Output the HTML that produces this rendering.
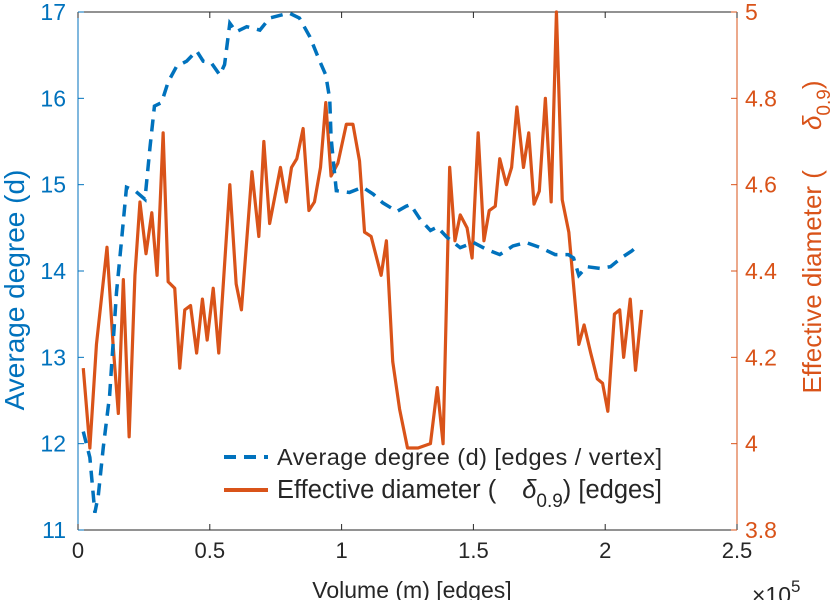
<!DOCTYPE html>
<html><head><meta charset="utf-8"><style>
body{margin:0;background:#fff}
svg{display:block;font-family:"Liberation Sans",sans-serif}
</style></head><body>
<svg id="chart" width="838" height="600" viewBox="0 0 838 600">
<g id="axes"></g><g id="series"></g>
<g>
<line x1="224" y1="457" x2="268" y2="457" stroke="#0072BD" stroke-width="4" stroke-dasharray="12,8"/>
<text x="277" y="465" font-size="23.5" fill="#262626" textLength="385">Average degree (d) [edges / vertex]</text>
<line x1="224" y1="490" x2="268" y2="490" stroke="#D95319" stroke-width="4"/>
<text x="277" y="498" font-size="25.5" fill="#262626">Effective diameter (<tspan dx="26" font-style="italic">δ</tspan><tspan font-size="19" dy="9">0.9</tspan><tspan dy="-9">) [edges]</tspan></text>
</g>
<text x="412" y="598" font-size="23" fill="#262626" text-anchor="middle">Volume (m) [edges]</text>
<text x="752" y="603" font-size="23" fill="#262626">×10<tspan font-size="17" dy="-11">5</tspan></text>
<text transform="translate(24,290) rotate(-90)" font-size="28" fill="#0072BD" text-anchor="middle">Average degree (d)</text>
<text transform="translate(821,237) rotate(-90)" font-size="26" fill="#D95319" text-anchor="middle">Effective diameter (<tspan dx="40" font-style="italic">δ</tspan><tspan font-size="19" dy="9">0.9</tspan><tspan dy="-9">)</tspan></text>
</svg>
<script>
const degX=[0.02,0.045,0.064,0.077,0.096,0.12,0.146,0.165,0.184,0.216,0.254,0.273,0.29,0.317,0.342,0.374,0.412,0.45,0.475,0.506,0.538,0.556,0.576,0.6,0.64,0.69,0.727,0.778,0.8,0.84,0.88,0.917,0.94,0.955,0.96,0.97,0.98,1.03,1.08,1.12,1.156,1.21,1.245,1.261,1.3,1.337,1.363,1.4,1.45,1.5,1.55,1.6,1.65,1.7,1.755,1.81,1.86,1.88,1.9,1.93,1.98,2.02,2.06,2.1,2.13];
const degY=[12.14,11.84,11.2,11.4,11.96,12.56,13.75,14.35,14.97,14.93,14.83,15.43,15.91,15.95,16.19,16.37,16.43,16.55,16.43,16.41,16.27,16.39,16.87,16.77,16.83,16.79,16.93,16.97,16.99,16.93,16.71,16.43,16.27,15.99,15.55,15.23,14.93,14.91,14.97,14.89,14.79,14.69,14.75,14.77,14.59,14.47,14.51,14.39,14.27,14.33,14.25,14.19,14.29,14.33,14.27,14.19,14.19,14.15,13.95,14.05,14.03,14.05,14.15,14.23,14.31];
const diaX=[0.02,0.045,0.07,0.11,0.133,0.153,0.172,0.194,0.216,0.235,0.258,0.28,0.3,0.323,0.342,0.367,0.386,0.405,0.427,0.45,0.472,0.49,0.513,0.534,0.576,0.6,0.62,0.66,0.686,0.705,0.727,0.768,0.79,0.81,0.83,0.854,0.876,0.897,0.92,0.94,0.96,0.986,1.018,1.043,1.068,1.087,1.112,1.15,1.17,1.194,1.22,1.25,1.264,1.29,1.337,1.363,1.385,1.41,1.43,1.45,1.476,1.495,1.518,1.54,1.56,1.583,1.6,1.625,1.645,1.665,1.69,1.71,1.73,1.75,1.773,1.795,1.815,1.837,1.862,1.9,1.92,1.945,1.97,1.99,2.01,2.035,2.055,2.07,2.095,2.115,2.138];
const diaY=[4.175,3.99,4.23,4.455,4.23,4.07,4.38,4.016,4.39,4.56,4.44,4.535,4.39,4.72,4.375,4.36,4.175,4.31,4.32,4.21,4.335,4.24,4.36,4.21,4.6,4.37,4.31,4.63,4.48,4.7,4.51,4.64,4.56,4.64,4.66,4.73,4.54,4.56,4.64,4.79,4.62,4.65,4.74,4.74,4.655,4.49,4.48,4.39,4.47,4.19,4.08,3.99,3.99,3.99,4.0,4.13,4.0,4.64,4.47,4.53,4.5,4.43,4.72,4.47,4.54,4.55,4.66,4.6,4.64,4.78,4.64,4.72,4.555,4.585,4.8,4.56,5.0,4.565,4.49,4.23,4.275,4.21,4.15,4.14,4.075,4.3,4.31,4.2,4.335,4.17,4.31];
const xTicks=[0,0.5,1,1.5,2,2.5];
const xTickLabels=["0","0.5","1","1.5","2","2.5"];
const leftTicks=[11,12,13,14,15,16,17];
const rightTicks=[3.8,4,4.2,4.4,4.6,4.8,5];
const rightTickLabels=["3.8","4","4.2","4.4","4.6","4.8","5"];

const L=78,R=737,T=12,B=530;
const sx=v=>L+(v-0)/2.5*(R-L);
const syL=v=>B-(v-11)/6*(B-T);
const syR=v=>B-(v-3.8)/1.2*(B-T);
const NS="http://www.w3.org/2000/svg";
function mk(tag,attrs,parent,txt){const e=document.createElementNS(NS,tag);for(const k in attrs)e.setAttribute(k,attrs[k]);if(txt!==undefined)e.textContent=txt;parent.appendChild(e);return e;}
const ax=document.getElementById('axes'), se=document.getElementById('series');
let e;
e=mk('line',{x1:L,y1:T,x2:R,y2:T,stroke:'#262626','stroke-width':1},ax);


e=mk('line',{x1:L,y1:B,x2:R,y2:B,stroke:'#262626','stroke-width':1},ax);


e=mk('line',{x1:L,y1:T,x2:L,y2:B,stroke:'#0072BD','stroke-width':1},ax);


e=mk('line',{x1:R,y1:T,x2:R,y2:B,stroke:'#D95319','stroke-width':1},ax);


xTicks.forEach((v,i)=>{const x=sx(v);
 mk('line',{x1:x,y1:B,x2:x,y2:B-6,stroke:'#262626'},ax);
 mk('line',{x1:x,y1:T,x2:x,y2:T+6,stroke:'#262626'},ax);
 e=mk('text',{x:x,y:B+28,'font-size':22,fill:'#262626','text-anchor':'middle'},ax,xTickLabels[i]);
 
 
});
leftTicks.forEach(v=>{const y=syL(v);
 mk('line',{x1:L,y1:y,x2:L+6,y2:y,stroke:'#0072BD'},ax);
 e=mk('text',{x:L-12,y:y+8,'font-size':23,fill:'#0072BD','text-anchor':'end'},ax,String(v));
 
 
});
rightTicks.forEach((v,i)=>{const y=syR(v);
 mk('line',{x1:R,y1:y,x2:R-6,y2:y,stroke:'#D95319'},ax);
 e=mk('text',{x:R+8,y:y+8,'font-size':23,fill:'#D95319'},ax,rightTickLabels[i]);
 
 
});
e=mk('polyline',{points:diaX.map((x,i)=>sx(x)+','+syR(diaY[i])).join(' '),fill:'none',stroke:'#D95319','stroke-width':3.2,'stroke-linejoin':'round'},se);


e=mk('polyline',{points:degX.map((x,i)=>sx(x)+','+syL(degY[i])).join(' '),fill:'none',stroke:'#0072BD','stroke-width':3.5,'stroke-dasharray':'12,8'},se);


</script>
</body></html>
